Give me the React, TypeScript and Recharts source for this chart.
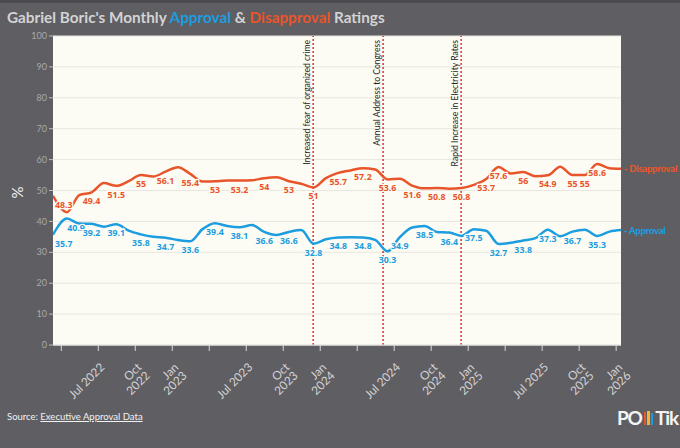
import React from "react";
import {
  ComposedChart,
  Line,
  XAxis,
  YAxis,
  CartesianGrid,
  ReferenceLine,
  LabelList,
} from "recharts";

// survey dates (first = inauguration, last = latest poll)
const dates = [
  "2022-03-11", "2022-04-15", "2022-05-15", "2022-06-15", "2022-07-15", "2022-08-15",
  "2022-09-15", "2022-10-15", "2022-11-15", "2022-12-15",
  "2023-01-15", "2023-02-15", "2023-03-15", "2023-04-15", "2023-05-15", "2023-06-15",
  "2023-07-15", "2023-08-15", "2023-09-15", "2023-10-15", "2023-11-15", "2023-12-15",
  "2024-01-15", "2024-02-15", "2024-03-15", "2024-04-15", "2024-05-15", "2024-06-15",
  "2024-07-15", "2024-08-15", "2024-09-15", "2024-10-15", "2024-11-15", "2024-12-15",
  "2025-01-15", "2025-02-15", "2025-03-15", "2025-04-15", "2025-05-15", "2025-06-15",
  "2025-07-15", "2025-08-15", "2025-09-15", "2025-10-15", "2025-11-15", "2025-12-15",
  "2026-01-13",
];

const approval = [
  35.7, 40.9, 39.3, 39.2, 38.3, 39.1, 37.0, 35.8, 35.0, 34.7,
  34.0, 33.6, 37.5, 39.4, 38.5, 38.1, 38.8, 36.6, 35.6, 36.6, 37.2, 32.8,
  34.2, 34.8, 34.9, 34.8, 34.0, 30.3, 34.9, 38.0, 38.5, 36.6, 36.4, 35.3,
  37.5, 37.0, 32.7, 33.1, 33.8, 34.6, 37.3, 35.2, 36.7, 37.3, 35.3, 36.7,
  37.2,
];

const disapproval = [
  48.3, 43.0, 48.5, 49.4, 52.4, 51.5, 53.0, 55.0, 54.5, 56.1,
  57.5, 55.4, 52.9, 53.0, 53.2, 53.2, 53.3, 54.0, 54.3, 53.0, 52.2, 51.0,
  54.0, 55.7, 56.5, 57.2, 56.8, 53.6, 53.8, 51.6, 50.7, 50.8, 50.6, 50.8,
  51.8, 53.7, 57.6, 55.5, 56.0, 54.6, 54.9, 57.7, 55.0, 55.0, 58.6, 57.2,
  57.0,
];

// which points carry a value label
const approvalLabeled = [0, 1, 3, 5, 7, 9, 11, 13, 15, 17, 19, 21, 23, 25, 27, 28, 30, 32, 34, 36, 38, 40, 42, 44];
const disapprovalLabeled = [0, 3, 5, 7, 9, 11, 13, 15, 17, 19, 21, 23, 25, 27, 29, 31, 33, 35, 36, 38, 40, 42, 43, 44];

const tickDates = [
  "2022-04-01", "2022-07-01", "2022-10-01", "2023-01-01", "2023-04-01", "2023-07-01",
  "2023-10-01", "2024-01-01", "2024-04-01", "2024-07-01", "2024-10-01", "2025-01-01",
  "2025-04-01", "2025-07-01", "2025-10-01", "2026-01-01",
];
const tickLabels = [
  "", "Jul 2022", "Oct\n2022", "Jan\n2023", "", "Jul 2023",
  "Oct\n2023", "Jan\n2024", "", "Jul 2024", "Oct\n2024", "Jan\n2025",
  "", "Jul 2025", "Oct\n2025", "Jan\n2026",
];

const events = [
  { date: "2023-12-14", text: "Increased fear of organized crime" },
  { date: "2024-06-04", text: "Annual Address to Congress" },
  { date: "2024-12-14", text: "Rapid Increase in Electricity Rates" },
];

const BLUE = "#1c9de0";
const ORANGE = "#e8552b";
const BG = "#5f5e63";
const PLOT = "#fdfcf4";

const monthPos = (d: string) => {
  const [y, m, dd] = d.split("-").map(Number);
  return (y - 2022) * 12 + (m - 1) + (dd - 1) / 30.5;
};

const data = dates.map((d, i) => ({
  t: monthPos(d),
  approval: approval[i],
  disapproval: disapproval[i],
}));

const ticks = tickDates.map(monthPos);
const tickText: Record<string, string> = {};
ticks.forEach((t, i) => (tickText[t.toFixed(4)] = tickLabels[i]));

const XTick = (props: any) => {
  const { x, y, payload } = props;
  const label = tickText[Number(payload.value).toFixed(4)] || "";
  if (!label) return null;
  const lines = label.split("\n");
  return (
    <g transform={`translate(${x + 7},${y + 15}) rotate(-45)`}>
      <text textAnchor="end" fill="#d4d4d4" fontSize={11.8} fontFamily="Lato">
        {lines.map((l, i) => (
          <tspan key={i} x={0} dy={i === 0 ? 0 : "1.0em"}>
            {l}
          </tspan>
        ))}
      </text>
    </g>
  );
};

const makeLabel = (labeled: number[], color: string, endText: string) => (props: any) => {
  const { x, y, value, index } = props;
  const out: any[] = [];
  if (labeled.includes(index)) {
    let dx = 0;
    let anchor = "middle";
    if (index === 0) {
      dx = 2;
      anchor = "start";
    }
    if (endText === "Approval" && index === 1) dx = 9;
    out.push(
      <text
        key="v"
        x={x + dx}
        y={y + 12}
        textAnchor={anchor}
        fill={color}
        fontSize={8.8}
        fontWeight={700}
        fontFamily="Open Sans"
        stroke={PLOT}
        strokeWidth={2.5}
        paintOrder="stroke"
      >
        {value}
      </text>
    );
  }
  if (index === data.length - 1) {
    out.push(
      <text
        key="e"
        x={x + 3}
        y={y + 3.5}
        fill={color}
        fontSize={9.6}
        fontWeight={900}
        fontFamily="Lato"
        letterSpacing={-0.3}
      >
        {"- " + endText}
      </text>
    );
  }
  return <g>{out}</g>;
};

const EventLabel = (text: string) => (props: any) => {
  const { viewBox } = props;
  const x = viewBox.x - 3;
  const y = viewBox.y + 4;
  return (
    <text
      transform={`translate(${x},${y}) rotate(-90)`}
      textAnchor="end"
      fill="#1e1e1e"
      fontSize={8.6}
      fontFamily="Lato"
    >
      {text}
    </text>
  );
};

export default function App() {
  return (
    <div
      style={{
        position: "absolute",
        left: 0,
        top: 0,
        width: 680,
        height: 448,
        background: BG,
        borderTop: "3px solid #4c4b50",
        boxSizing: "border-box",
        overflow: "hidden",
        fontFamily: "Lato",
      }}
    >
      <div
        style={{
          position: "absolute",
          left: 7,
          top: 5,
          fontSize: 15.3,
          fontWeight: "bold",
          color: "#d3d3d3",
          whiteSpace: "nowrap",
        }}
      >
        Gabriel Boric's Monthly <span style={{ color: BLUE }}>Approval</span> &amp;{" "}
        <span style={{ color: ORANGE }}>Disapproval</span> Ratings
      </div>
      <div style={{ position: "absolute", top: -3, left: 0 }}>
        <ComposedChart
          width={680}
          height={448}
          data={data}
          margin={{ top: 36, right: 59, bottom: 33, left: 0 }}
        >
          <CartesianGrid vertical={false} fill={PLOT} stroke="#e8e6de" />
          <XAxis
            dataKey="t"
            type="number"
            domain={[monthPos("2022-03-11"), monthPos("2026-01-13")]}
            ticks={ticks}
            tick={<XTick />}
            interval={0}
            height={70}
            tickSize={6}
            tickLine={{ stroke: "#d8d8d8" }}
            axisLine={{ stroke: "#e4e4e4" }}
            allowDataOverflow
          />
          <YAxis
            type="number"
            domain={[0, 100]}
            ticks={[0, 10, 20, 30, 40, 50, 60, 70, 80, 90, 100]}
            width={53}
            tickSize={4}
            tickMargin={2}
            tick={{ fill: "#a9a9a9", fontSize: 9, fontFamily: "Lato" }}
            tickLine={{ stroke: "#bdbdbd" }}
            axisLine={false}
            label={{
              value: "%",
              angle: -90,
              position: "insideLeft",
              offset: 18,
              dy: 8,
              fill: "#eeeeee",
              fontSize: 15,
            }}
          />
          {events.map((e) => (
            <ReferenceLine
              key={e.date}
              x={monthPos(e.date)}
              stroke="#d3252a"
              strokeWidth={1.4}
              strokeDasharray="2 2"
              label={EventLabel(e.text)}
            />
          ))}
          <Line
            type="monotone"
            dataKey="disapproval"
            stroke={ORANGE}
            strokeWidth={2.5}
            dot={false}
            isAnimationActive={false}
          >
            <LabelList dataKey="disapproval" content={makeLabel(disapprovalLabeled, ORANGE, "Disapproval")} />
          </Line>
          <Line
            type="monotone"
            dataKey="approval"
            stroke={BLUE}
            strokeWidth={2.5}
            dot={false}
            isAnimationActive={false}
          >
            <LabelList dataKey="approval" content={makeLabel(approvalLabeled, BLUE, "Approval")} />
          </Line>
        </ComposedChart>
      </div>
      <div
        style={{
          position: "absolute",
          left: 7,
          top: 408,
          fontSize: 9.5,
          color: "#f2f2f2",
          whiteSpace: "nowrap",
        }}
      >
        Source: <span style={{ textDecoration: "underline" }}>Executive Approval Data</span>
      </div>
      <div
        style={{
          position: "absolute",
          left: 617,
          top: 404,
          fontSize: 19,
          fontWeight: "bold",
          color: "#f4f4f4",
          letterSpacing: -1.2,
          whiteSpace: "nowrap",
          display: "flex",
          alignItems: "flex-end",
          lineHeight: "22px",
        }}
      >
        <span>PO</span>
        <span style={{ display: "inline-block", width: 2.5, height: 13, background: "#e8552b", margin: "0 1px 4px 2px" }} />
        <span style={{ display: "inline-block", width: 2.5, height: 14, background: "#f2b632", margin: "0 1px 4px 0" }} />
        <span style={{ display: "inline-block", width: 2.5, height: 12, background: "#1c9de0", margin: "0 2px 4px 0" }} />
        <span>Tik</span>
      </div>
    </div>
  );
}
